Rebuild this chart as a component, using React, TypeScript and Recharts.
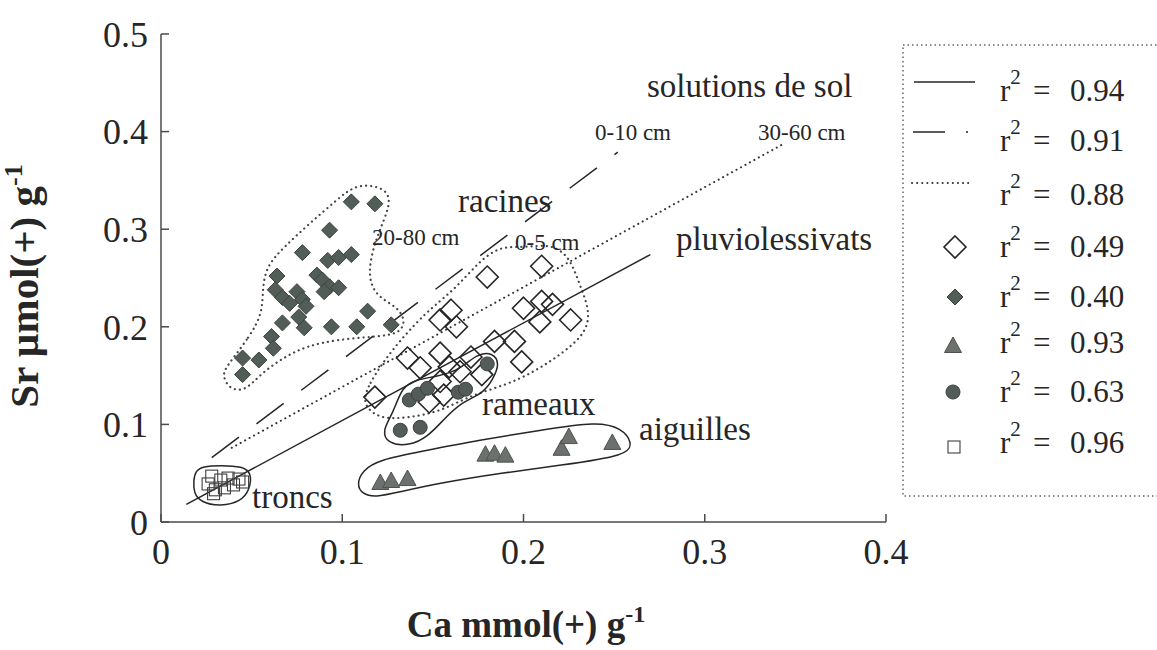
import React from 'react';
import { ScatterChart, Scatter, XAxis, YAxis } from 'recharts';

type Pt = { x: number; y: number };

const W = 1157;
const H = 650;
const SERIF = "'Liberation Serif', 'Times New Roman', serif";
const INK = '#262626';
const AXIS = '#4a4a4a';

const X_TICKS = [0, 0.1, 0.2, 0.3, 0.4];
const Y_TICKS = [0, 0.1, 0.2, 0.3, 0.4, 0.5];

// racines 20-80 cm (filled diamonds)
const racines2080: Pt[] = [
  { x: 0.105, y: 0.328 }, { x: 0.118, y: 0.326 }, { x: 0.093, y: 0.299 }, { x: 0.078, y: 0.276 },
  { x: 0.092, y: 0.268 }, { x: 0.098, y: 0.271 }, { x: 0.105, y: 0.274 }, { x: 0.064, y: 0.252 },
  { x: 0.086, y: 0.253 }, { x: 0.089, y: 0.248 }, { x: 0.093, y: 0.241 }, { x: 0.098, y: 0.240 },
  { x: 0.063, y: 0.238 }, { x: 0.067, y: 0.230 }, { x: 0.075, y: 0.236 }, { x: 0.078, y: 0.228 },
  { x: 0.071, y: 0.224 }, { x: 0.080, y: 0.221 }, { x: 0.090, y: 0.236 }, { x: 0.114, y: 0.216 },
  { x: 0.067, y: 0.204 }, { x: 0.076, y: 0.210 }, { x: 0.079, y: 0.199 }, { x: 0.094, y: 0.200 },
  { x: 0.108, y: 0.200 }, { x: 0.127, y: 0.202 }, { x: 0.061, y: 0.190 }, { x: 0.062, y: 0.178 },
  { x: 0.045, y: 0.168 }, { x: 0.054, y: 0.166 }, { x: 0.045, y: 0.151 },
];

// racines 0-5 cm (open diamonds)
const racines05: Pt[] = [
  { x: 0.180, y: 0.251 }, { x: 0.210, y: 0.262 }, { x: 0.160, y: 0.217 }, { x: 0.154, y: 0.207 },
  { x: 0.163, y: 0.200 }, { x: 0.200, y: 0.219 }, { x: 0.210, y: 0.226 }, { x: 0.216, y: 0.223 },
  { x: 0.209, y: 0.205 }, { x: 0.226, y: 0.207 }, { x: 0.184, y: 0.185 }, { x: 0.195, y: 0.185 },
  { x: 0.199, y: 0.164 }, { x: 0.154, y: 0.173 }, { x: 0.136, y: 0.168 }, { x: 0.143, y: 0.158 },
  { x: 0.171, y: 0.169 }, { x: 0.159, y: 0.159 }, { x: 0.177, y: 0.151 }, { x: 0.154, y: 0.144 },
  { x: 0.148, y: 0.123 }, { x: 0.118, y: 0.128 }, { x: 0.156, y: 0.130 }, { x: 0.165, y: 0.154 },
];

// rameaux (filled circles)
const rameaux: Pt[] = [
  { x: 0.132, y: 0.094 }, { x: 0.143, y: 0.097 }, { x: 0.137, y: 0.125 }, { x: 0.142, y: 0.131 },
  { x: 0.147, y: 0.137 }, { x: 0.164, y: 0.133 }, { x: 0.168, y: 0.136 }, { x: 0.180, y: 0.162 },
];

// aiguilles (triangles)
const aiguilles: Pt[] = [
  { x: 0.121, y: 0.040 }, { x: 0.127, y: 0.042 }, { x: 0.136, y: 0.044 }, { x: 0.179, y: 0.069 },
  { x: 0.184, y: 0.070 }, { x: 0.190, y: 0.068 }, { x: 0.221, y: 0.075 }, { x: 0.225, y: 0.087 },
  { x: 0.249, y: 0.081 },
];

// troncs (open squares)
const troncs: Pt[] = [
  { x: 0.026, y: 0.039 }, { x: 0.028, y: 0.047 }, { x: 0.030, y: 0.033 }, { x: 0.033, y: 0.043 },
  { x: 0.035, y: 0.035 }, { x: 0.037, y: 0.045 }, { x: 0.040, y: 0.038 }, { x: 0.043, y: 0.044 },
  { x: 0.045, y: 0.041 }, { x: 0.029, y: 0.029 },
];

// regression lines
const linePluvio: Pt[] = [{ x: 0.014, y: 0.018 }, { x: 0.270, y: 0.274 }];
const lineSol010: Pt[] = [{ x: 0.028, y: 0.066 }, { x: 0.252, y: 0.379 }];
const lineSol3060: Pt[] = [{ x: 0.039, y: 0.076 }, { x: 0.344, y: 0.388 }];

// hand-drawn group outlines
const outlineRacines2080: Pt[] = [
  { x: 0.036, y: 0.159 }, { x: 0.049, y: 0.190 }, { x: 0.056, y: 0.214 }, { x: 0.056, y: 0.238 },
  { x: 0.058, y: 0.262 }, { x: 0.068, y: 0.282 }, { x: 0.082, y: 0.306 }, { x: 0.097, y: 0.330 },
  { x: 0.108, y: 0.347 }, { x: 0.123, y: 0.343 }, { x: 0.127, y: 0.330 }, { x: 0.123, y: 0.309 },
  { x: 0.117, y: 0.282 }, { x: 0.114, y: 0.251 }, { x: 0.119, y: 0.231 }, { x: 0.130, y: 0.221 },
  { x: 0.135, y: 0.207 }, { x: 0.132, y: 0.193 }, { x: 0.119, y: 0.190 }, { x: 0.097, y: 0.187 },
  { x: 0.080, y: 0.180 }, { x: 0.068, y: 0.169 }, { x: 0.055, y: 0.152 }, { x: 0.046, y: 0.133 },
  { x: 0.037, y: 0.137 }, { x: 0.034, y: 0.151 },
];
const outlineRacines05: Pt[] = [
  { x: 0.111, y: 0.120 }, { x: 0.114, y: 0.140 }, { x: 0.127, y: 0.176 }, { x: 0.146, y: 0.215 },
  { x: 0.162, y: 0.238 }, { x: 0.175, y: 0.266 }, { x: 0.187, y: 0.283 }, { x: 0.201, y: 0.281 },
  { x: 0.214, y: 0.285 }, { x: 0.225, y: 0.274 }, { x: 0.231, y: 0.243 }, { x: 0.237, y: 0.215 },
  { x: 0.234, y: 0.192 }, { x: 0.220, y: 0.171 }, { x: 0.206, y: 0.154 }, { x: 0.190, y: 0.140 },
  { x: 0.171, y: 0.130 }, { x: 0.154, y: 0.113 }, { x: 0.137, y: 0.107 }, { x: 0.121, y: 0.105 },
];
const outlineRameaux: Pt[] = [
  { x: 0.133, y: 0.139 }, { x: 0.128, y: 0.111 }, { x: 0.122, y: 0.094 }, { x: 0.125, y: 0.080 },
  { x: 0.137, y: 0.078 }, { x: 0.147, y: 0.087 }, { x: 0.156, y: 0.105 }, { x: 0.165, y: 0.122 },
  { x: 0.178, y: 0.132 }, { x: 0.183, y: 0.146 }, { x: 0.187, y: 0.162 }, { x: 0.183, y: 0.174 },
  { x: 0.174, y: 0.172 }, { x: 0.165, y: 0.156 }, { x: 0.152, y: 0.149 }, { x: 0.141, y: 0.146 },
];
const outlineAiguilles: Pt[] = [
  { x: 0.111, y: 0.053 }, { x: 0.121, y: 0.064 }, { x: 0.143, y: 0.072 }, { x: 0.176, y: 0.084 },
  { x: 0.209, y: 0.094 }, { x: 0.241, y: 0.103 }, { x: 0.254, y: 0.096 }, { x: 0.260, y: 0.082 },
  { x: 0.258, y: 0.068 }, { x: 0.220, y: 0.058 }, { x: 0.187, y: 0.050 }, { x: 0.154, y: 0.040 },
  { x: 0.132, y: 0.031 }, { x: 0.118, y: 0.025 }, { x: 0.111, y: 0.029 }, { x: 0.108, y: 0.038 },
];
const outlineTroncs: Pt[] = [
  { x: 0.019, y: 0.052 }, { x: 0.023, y: 0.057 }, { x: 0.033, y: 0.058 }, { x: 0.045, y: 0.057 },
  { x: 0.050, y: 0.050 }, { x: 0.049, y: 0.033 }, { x: 0.044, y: 0.021 }, { x: 0.033, y: 0.016 },
  { x: 0.022, y: 0.020 }, { x: 0.018, y: 0.030 }, { x: 0.018, y: 0.043 },
];

const LEGEND_R2 = ['0.94', '0.91', '0.88', '0.49', '0.40', '0.93', '0.63', '0.96'];

const Empty = () => <g />;

function OpenDiamond({ cx, cy }: any) {
  const s = 11;
  return <polygon points={`${cx},${cy - s} ${cx + s},${cy} ${cx},${cy + s} ${cx - s},${cy}`} fill="none" stroke={INK} strokeWidth={1.6} />;
}
function FilledDiamond({ cx, cy }: any) {
  const s = 8;
  return <polygon points={`${cx},${cy - s} ${cx + s},${cy} ${cx},${cy + s} ${cx - s},${cy}`} fill="#535d58" stroke="#3b433f" strokeWidth={1} />;
}
function Triangle({ cx, cy }: any) {
  return <polygon points={`${cx},${cy - 9} ${cx + 8.5},${cy + 6.5} ${cx - 8.5},${cy + 6.5}`} fill="#6c716e" stroke="#4d524f" strokeWidth={1} />;
}
function Dot({ cx, cy }: any) {
  return <circle cx={cx} cy={cy} r={7} fill="#545c59" stroke="#3b423f" strokeWidth={1} />;
}
function OpenSquare({ cx, cy }: any) {
  return <rect x={cx - 6} y={cy - 6} width={12} height={12} fill="none" stroke="#3f3f3f" strokeWidth={1.1} />;
}

const dottedOutline = { stroke: '#444', strokeWidth: 2.2, strokeDasharray: '0.1 5', strokeLinecap: 'round' as const };
const solidOutline = { stroke: INK, strokeWidth: 1.5 };

export default function App() {
  const tickFont = { fill: INK, fontSize: 36, fontFamily: SERIF, style: { fontFamily: SERIF } };
  return (
    <div style={{ position: 'absolute', left: 0, top: 0, width: W, height: H, background: '#fff', fontFamily: SERIF }}>
      <ScatterChart width={W} height={H} margin={{ top: 34, right: 271, bottom: 68, left: 81 }} style={{ fontFamily: SERIF }}>
        <XAxis type="number" dataKey="x" domain={[0, 0.4]} ticks={X_TICKS} interval={0} height={60}
          tickSize={-8} tickMargin={24} axisLine={{ stroke: AXIS, strokeWidth: 1.5 }}
          tickLine={{ stroke: AXIS, strokeWidth: 1.5 }} tick={tickFont} />
        <XAxis xAxisId="top" orientation="top" type="number" domain={[0, 0.4]} height={0}
          tick={false} tickLine={false} axisLine={{ stroke: AXIS, strokeWidth: 1.5 }} />
        <YAxis type="number" dataKey="y" domain={[0, 0.5]} ticks={Y_TICKS} interval={0} width={80}
          tickSize={-8} tickMargin={21} axisLine={{ stroke: AXIS, strokeWidth: 1.5 }}
          tickLine={{ stroke: AXIS, strokeWidth: 1.5 }} tick={tickFont} />
        <YAxis yAxisId="right" orientation="right" type="number" domain={[0, 0.5]} ticks={Y_TICKS} interval={0}
          width={0} tickSize={-8} tick={false} axisLine={{ stroke: AXIS, strokeWidth: 1.5 }}
          tickLine={{ stroke: AXIS, strokeWidth: 1.5 }} />

        <Scatter data={outlineRacines2080} shape={Empty} line={dottedOutline} lineType="joint" lineJointType="basisClosed" isAnimationActive={false} />
        <Scatter data={outlineRacines05} shape={Empty} line={dottedOutline} lineType="joint" lineJointType="basisClosed" isAnimationActive={false} />
        <Scatter data={outlineRameaux} shape={Empty} line={solidOutline} lineType="joint" lineJointType="basisClosed" isAnimationActive={false} />
        <Scatter data={outlineAiguilles} shape={Empty} line={solidOutline} lineType="joint" lineJointType="basisClosed" isAnimationActive={false} />
        <Scatter data={outlineTroncs} shape={Empty} line={solidOutline} lineType="joint" lineJointType="basisClosed" isAnimationActive={false} />

        <Scatter data={linePluvio} shape={Empty} line={{ stroke: INK, strokeWidth: 1.5 }} lineType="joint" isAnimationActive={false} />
        <Scatter data={lineSol010} shape={Empty} line={{ stroke: INK, strokeWidth: 1.5, strokeDasharray: '34 22' }} lineType="joint" isAnimationActive={false} />
        <Scatter data={lineSol3060} shape={Empty} line={{ stroke: '#333', strokeWidth: 2, strokeDasharray: '0.1 5', strokeLinecap: 'round' }} lineType="joint" isAnimationActive={false} />

        <Scatter data={racines05} shape={OpenDiamond} isAnimationActive={false} />
        <Scatter data={racines2080} shape={FilledDiamond} isAnimationActive={false} />
        <Scatter data={rameaux} shape={Dot} isAnimationActive={false} />
        <Scatter data={aiguilles} shape={Triangle} isAnimationActive={false} />
        <Scatter data={troncs} shape={OpenSquare} isAnimationActive={false} />
      </ScatterChart>

      <svg width={W} height={H} style={{ position: 'absolute', left: 0, top: 0, pointerEvents: 'none', fontFamily: SERIF }} fill={INK}>
        {/* axis titles */}
        <text transform="translate(38,286) rotate(-90)" textAnchor="middle" fontSize={41} fontWeight="bold">
          Sr µmol(+) g<tspan dy={-16} fontSize={26}>-1</tspan>
        </text>
        <text x={526} y={637} textAnchor="middle" fontSize={37} fontWeight="bold">
          Ca mmol(+) g<tspan dy={-15} fontSize={24}>-1</tspan>
        </text>

        {/* annotations */}
        <g fontSize={33}>
          <text x={647} y={97}>solutions de sol</text>
          <text x={458} y={212}>racines</text>
          <text x={676} y={250}>pluviolessivats</text>
          <text x={482} y={415}>rameaux</text>
          <text x={639} y={440}>aiguilles</text>
          <text x={252} y={508}>troncs</text>
        </g>
        <g fontSize={23}>
          <text x={595} y={140}>0-10 cm</text>
          <text x={758} y={140}>30-60 cm</text>
          <text x={372} y={245}>20-80 cm</text>
          <text x={515} y={250}>0-5 cm</text>
        </g>

        {/* legend */}
        <rect x={903} y={45} width={280} height={451} fill="none" stroke="#666" strokeWidth={1.5} strokeDasharray="1.5 3" />
        <line x1={914} x2={975} y1={82} y2={82} stroke={INK} strokeWidth={1.5} />
        <line x1={913} x2={970} y1={132} y2={132} stroke={INK} strokeWidth={1.5} strokeDasharray="32 21 2 30" />
        <line x1={912} x2={970} y1={183} y2={183} stroke="#333" strokeWidth={2} strokeDasharray="0.1 5" strokeLinecap="round" />
        <OpenDiamond cx={955} cy={247} />
        <FilledDiamond cx={955} cy={297} />
        <Triangle cx={953} cy={346} />
        <Dot cx={953} cy={392} />
        <OpenSquare cx={954} cy={447} />
        {LEGEND_R2.map((v, i) => {
          const base = [101, 151, 205, 257, 307, 353, 402, 453][i];
          return (
            <text key={i} x={1000} y={base} fontSize={31}>
              r<tspan dy={-17} fontSize={21}>2</tspan>
              <tspan x={1033} dy={17}>=</tspan>
              <tspan x={1070}>{v}</tspan>
            </text>
          );
        })}
      </svg>
    </div>
  );
}
